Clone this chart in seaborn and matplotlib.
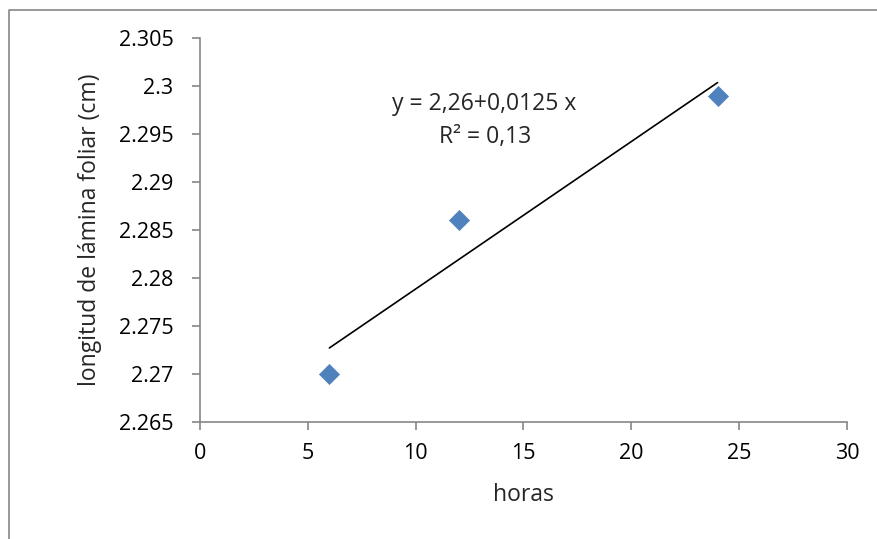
import matplotlib
matplotlib.use("Agg")
import matplotlib.pyplot as plt
import seaborn as sns
import pandas as pd
from matplotlib.lines import Line2D

# values
horas = [6, 12, 24]
longitud = [2.270, 2.286, 2.299]
x_ticks = [0, 5, 10, 15, 20, 25, 30]
y_ticks = [2.265, 2.27, 2.275, 2.28, 2.285, 2.29, 2.295, 2.3, 2.305]
y_tick_labels = ["2.265", "2.27", "2.275", "2.28", "2.285", "2.29", "2.295", "2.3", "2.305"]
equation = "y = 2,26+0,0125 x"
r_squared = "R² = 0,13"

df = pd.DataFrame({"horas": horas, "longitud": longitud})

sns.set_style("ticks")
plt.rcParams["font.family"] = ["Open Sans", "DejaVu Sans"]

AXIS_GREY = "#868686"
MARKER_BLUE = "#4F81BD"
TICK_FS = 15.5
TEXT_FS = 16.5

fig = plt.figure(figsize=(8.78, 5.39), dpi=100)
ax = fig.add_axes([200 / 878, 1 - 422 / 539, 647 / 878, 384 / 539])

# trend line (least squares fit over the data range)
sns.regplot(data=df, x="horas", y="longitud", ax=ax, scatter=False, ci=None,
            truncate=True, line_kws={"color": "black", "lw": 1.2})
sns.scatterplot(data=df, x="horas", y="longitud", ax=ax, marker="D", s=105,
                color=MARKER_BLUE, edgecolor=MARKER_BLUE, linewidth=0.5, zorder=3)

ax.set_xlim(0, 30)
ax.set_ylim(2.265, 2.305)
ax.set_xticks(x_ticks)
ax.set_xticklabels([str(t) for t in x_ticks])
ax.set_yticks(y_ticks)
ax.set_yticklabels(y_tick_labels)

for side in ["top", "right"]:
    ax.spines[side].set_visible(False)
for side in ["left", "bottom"]:
    ax.spines[side].set_color(AXIS_GREY)
    ax.spines[side].set_linewidth(1.2)

ax.tick_params(axis="both", direction="out", length=6, width=1.2, color=AXIS_GREY,
               labelsize=TICK_FS, labelcolor="black")
ax.tick_params(axis="y", pad=13)
ax.tick_params(axis="x", pad=9)

ax.set_xlabel("horas", fontsize=TEXT_FS, labelpad=14)
ax.set_ylabel("longitud de lámina foliar (cm)", fontsize=TEXT_FS, labelpad=12)

ax.text(13.2, 2.2981, equation, ha="center", va="center", fontsize=TEXT_FS)
ax.text(13.2, 2.2947, r_squared, ha="center", va="center", fontsize=TEXT_FS)

# chart-area frame (only left and top edges visible in the reference)
fx = 8.5 / 878
fy = 1 - 9.5 / 539
fig.add_artist(Line2D([fx, fx, 1], [0, fy, fy], transform=fig.transFigure,
                      color=AXIS_GREY, lw=1.2))

fig.savefig("out.png", dpi=100)
